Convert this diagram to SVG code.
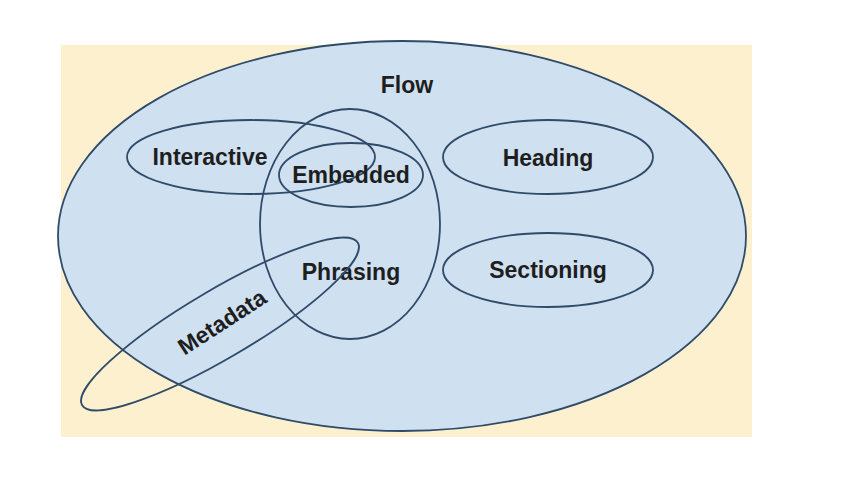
<svg xmlns="http://www.w3.org/2000/svg" width="845" height="485" viewBox="0 0 845 485">
<style>
.set{fill:none;stroke:#2f4b69;stroke-width:1.8}
.lbl{font-family:"Liberation Sans",Arial,sans-serif;font-weight:bold;font-size:23px;fill:#1e1e1e;text-anchor:middle}
</style>
<rect x="0" y="0" width="845" height="485" fill="#ffffff"/>
<rect x="61" y="45" width="691" height="392" fill="#fdf0cf"/>
<g id="flow">
<ellipse cx="402" cy="236" rx="344" ry="195" fill="#cfe0f0" stroke="#2f4b69" stroke-width="1.8"/>
<text class="lbl" x="407" y="93">Flow</text>
</g>
<g id="interactive">
<ellipse class="set" cx="251" cy="157" rx="124" ry="37"/>
<text class="lbl" x="210" y="165">Interactive</text>
</g>
<g id="embedded">
<ellipse class="set" cx="351" cy="175" rx="72" ry="32"/>
<text class="lbl" x="351" y="183">Embedded</text>
</g>
<g id="phrasing">
<ellipse class="set" cx="350" cy="224" rx="90" ry="115"/>
<text class="lbl" x="351" y="280">Phrasing</text>
</g>
<g id="heading">
<ellipse class="set" cx="548" cy="157" rx="105" ry="37"/>
<text class="lbl" x="548" y="166">Heading</text>
</g>
<g id="sectioning">
<ellipse class="set" cx="548" cy="270" rx="105" ry="37"/>
<text class="lbl" x="548" y="278">Sectioning</text>
</g>
<g id="metadata">
<ellipse class="set" cx="220" cy="324" rx="160" ry="34" transform="rotate(-30.5 220 324)"/>
<text class="lbl" x="222" y="330" transform="rotate(-33 222 322)">Metadata</text>
</g>
</svg>
